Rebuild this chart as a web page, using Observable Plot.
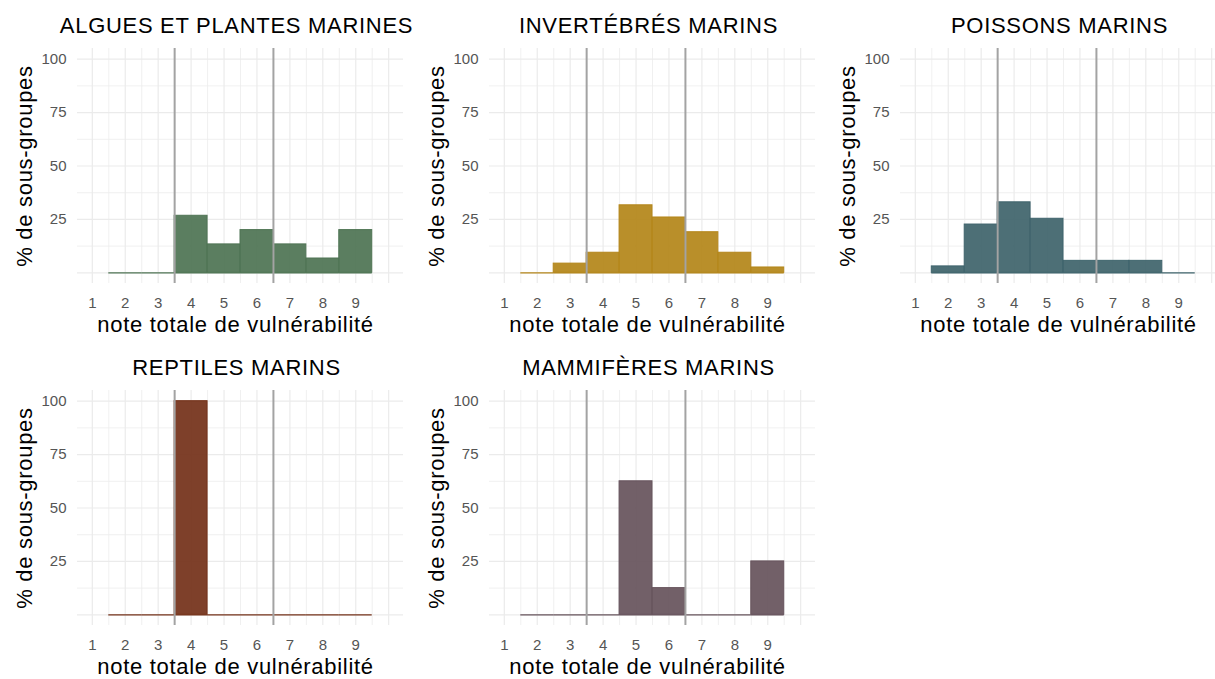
<!DOCTYPE html>
<html>
<head>
<meta charset="utf-8">
<script src="https://cdn.jsdelivr.net/npm/d3@7"></script>
<script src="https://cdn.jsdelivr.net/npm/@observablehq/plot@0.6"></script>
<style>
  html, body { margin: 0; padding: 0; background: #fff; overflow: hidden; width: 1215px; height: 679px; }
  #root { position: relative; width: 1215px; height: 679px; overflow: hidden; }
  .panel { position: absolute; width: 411px; height: 341px; }
  .panel svg { max-width: none !important; overflow: visible; }
</style>
</head>
<body>
<div id="root"></div>
<script>
// ---- data ----
const scores = [2, 3, 4, 5, 6, 7, 8, 9];
const xTicks = [1, 2, 3, 4, 5, 6, 7, 8, 9];
const yTicks = [25, 50, 75, 100];
const thresholds = [3.5, 6.5];

const titles = ["ALGUES ET PLANTES MARINES", "INVERTÉBRÉS MARINS", "POISSONS MARINS", "REPTILES MARINS", "MAMMIFÈRES MARINS"];
const colors = ["#4f7454", "#b4861a", "#3f646c", "#74321a", "#67545d"];

const algues      = [0, 0, 26.7, 13.3, 20, 13.3, 6.7, 20];
const invertebres = [0, 4.3, 9.4, 31.6, 25.9, 19, 9.4, 2.5];
const poissons    = [3, 22.6, 33, 25.3, 5.6, 5.6, 5.6, 0];
const reptiles    = [0, 0, 100, 0, 0, 0, 0, 0];
const mammiferes  = [0, 0, 0, 62.5, 12.5, 0, 0, 25];
const series = [algues, invertebres, poissons, reptiles, mammiferes];

const xLabel = "note totale de vulnérabilité";
const yLabel = "% de sous-groupes";

// ---- layout ----
const font = "'Liberation Sans', Arial, Helvetica, sans-serif";
const positions = [[0, 0], [411.5, 0], [823, 0], [0, 342], [411.5, 342]];
const root = document.getElementById("root");

const xMajor = d3.range(1, 10.01, 1);
const xMinor = d3.range(1.5, 10, 1);
const yMajor = [0, 25, 50, 75, 100];
const yMinor = [12.5, 37.5, 62.5, 87.5];

series.forEach((vals, i) => {
  const data = scores.map((s, j) => ({score: s, value: vals[j]}));
  const col = colors[i];
  const chart = Plot.plot({
    width: 411,
    height: 341,
    marginLeft: 77,
    marginRight: 8,
    marginTop: 48,
    marginBottom: 58,
    style: {fontFamily: font, fontSize: "15px", color: "#555", background: "transparent", overflow: "visible"},
    x: {domain: [0.55, 10.45]},
    y: {domain: [-5, 105]},
    marks: [
      Plot.ruleY(yMinor, {stroke: "#ececec", strokeWidth: 0.8}),
      Plot.ruleX(xMinor, {stroke: "#ececec", strokeWidth: 0.8}),
      Plot.ruleY(yMajor, {stroke: "#ebebeb", strokeWidth: 1.2}),
      Plot.ruleX(xMajor, {stroke: "#ebebeb", strokeWidth: 1.2}),
      Plot.ruleY(data, {y: 0, x1: d => d.score - 0.5, x2: d => d.score + 0.5, stroke: col, strokeWidth: 1.2}),
      Plot.rectY(data.filter(d => d.value > 0), {
        x1: d => d.score - 0.5, x2: d => d.score + 0.5, y: "value",
        fill: col, fillOpacity: 0.93, stroke: col, strokeWidth: 1
      }),
      Plot.ruleX(thresholds, {stroke: "#a3a3a3", strokeWidth: 2}),
      Plot.axisX({ticks: xTicks, tickSize: 0, tickPadding: 14, label: null, fontSize: 15, fill: "#555"}),
      Plot.axisY({ticks: yTicks, tickSize: 0, tickPadding: 11, label: null, fontSize: 15, fill: "#555"}),
      Plot.text([titles[i]], {text: d => d, frameAnchor: "top", textAnchor: "middle", dx: -4, dy: -16, lineAnchor: "bottom", fontSize: 22, fill: "#000"}),
      Plot.text([xLabel], {text: d => d, frameAnchor: "bottom", textAnchor: "middle", dx: -5, dy: 48, lineAnchor: "bottom", fontSize: 22, fill: "#000"}),
      Plot.text([yLabel], {text: d => d, frameAnchor: "left", textAnchor: "middle", dx: -53, rotate: -90, lineAnchor: "middle", fontSize: 22, fill: "#000"})
    ]
  });
  chart.querySelectorAll("text").forEach(t => {
    const c = t.textContent;
    if (c === titles[i] || c === xLabel || c === yLabel) t.setAttribute("letter-spacing", "0.7");
  });
  const div = document.createElement("div");
  div.className = "panel";
  div.style.left = positions[i][0] + "px";
  div.style.top = positions[i][1] + "px";
  div.appendChild(chart);
  root.appendChild(div);
});
</script>
</body>
</html>
